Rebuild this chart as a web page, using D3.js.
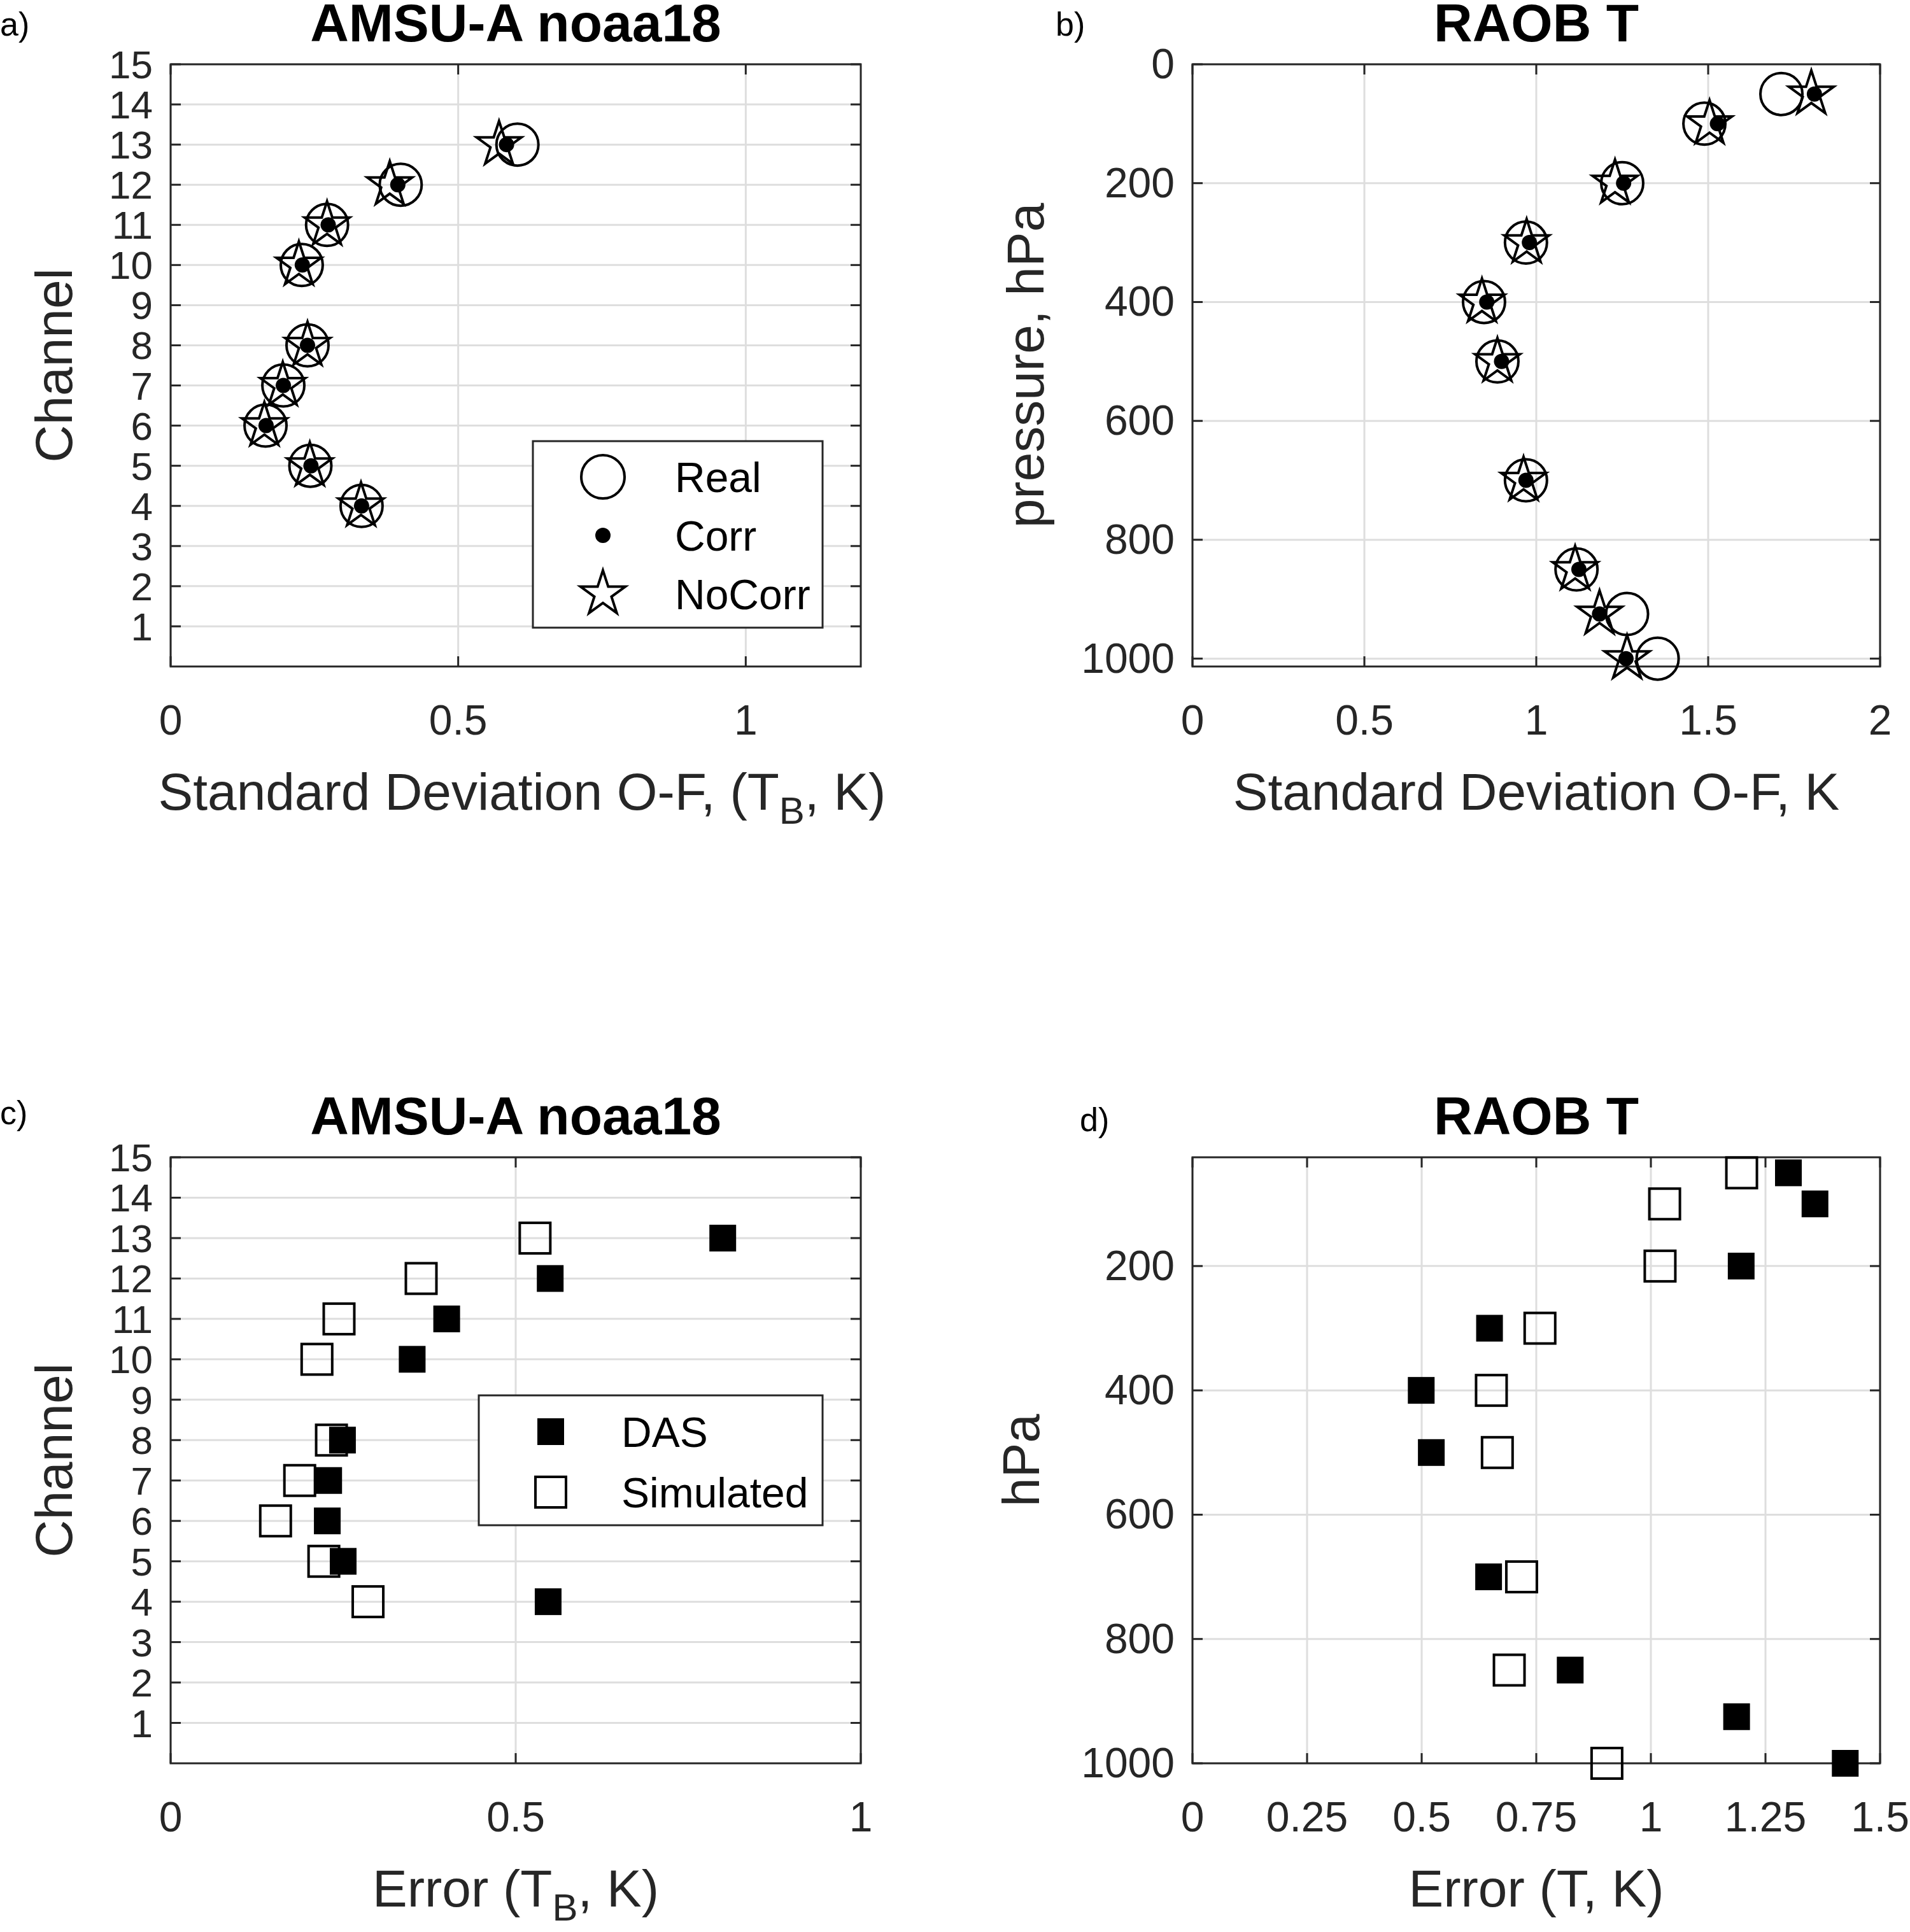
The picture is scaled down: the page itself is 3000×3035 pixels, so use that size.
<!DOCTYPE html>
<html>
<head>
<meta charset="utf-8">
<script src="https://cdn.jsdelivr.net/npm/d3@7"></script>
<style>
body { margin: 0; background: #fff; }
text { font-family: "Liberation Sans", Arial, sans-serif; fill: #262626; }
</style>
</head>
<body>
<div id="chart"></div>
<script>
// ---- data ----
var channels = [4, 5, 6, 7, 8, 10, 11, 12, 13];
var amsuReal    = [0.332, 0.243, 0.165, 0.196, 0.238, 0.228, 0.272, 0.400, 0.603];
var amsuCorr    = [0.332, 0.244, 0.166, 0.196, 0.238, 0.229, 0.274, 0.395, 0.584];
var amsuNoCorr  = [0.331, 0.242, 0.163, 0.195, 0.238, 0.223, 0.272, 0.381, 0.571];
var amsuDAS     = [0.547, 0.250, 0.227, 0.229, 0.249, 0.350, 0.400, 0.550, 0.800];
var amsuSim     = [0.286, 0.222, 0.152, 0.187, 0.233, 0.212, 0.244, 0.363, 0.528];

var levels = [50, 100, 200, 300, 400, 500, 700, 850, 925, 1000];
var raobReal   = [1.713, 1.489, 1.250, 0.970, 0.848, 0.887, 0.970, 1.117, 1.264, 1.353];
var raobCorr   = [1.809, 1.527, 1.254, 0.980, 0.856, 0.899, 0.970, 1.124, 1.184, 1.261];
var raobNoCorr = [1.800, 1.504, 1.229, 0.972, 0.842, 0.887, 0.963, 1.113, 1.184, 1.264];
var raobDAS    = [1.300, 1.358, 1.197, 0.648, 0.499, 0.521, 0.646, 0.824, 1.187, 1.424];
var raobSim    = [1.198, 1.030, 1.020, 0.758, 0.652, 0.665, 0.718, 0.691, null, 0.904];

var channelTicks = d3.range(1, 16);
var pressTicks = [0, 200, 400, 600, 800, 1000];
var pressTicksD = [200, 400, 600, 800, 1000];

var svg = d3.select("#chart").append("svg")
    .attr("width", 3000).attr("height", 3035);

function starPath(R) {
    var r = R * 0.382, pts = [];
    for (var i = 0; i < 10; i++) {
        var a = -Math.PI / 2 + i * Math.PI / 5, rr = i % 2 ? r : R;
        pts.push([rr * Math.cos(a), rr * Math.sin(a)]);
    }
    return "M" + pts.join("L") + "Z";
}

// draws axes box, grid and ticks; returns scales
function panel(o) {
    var x = d3.scaleLinear().domain(o.xd).range([o.l, o.r]);
    var y = d3.scaleLinear().domain(o.yd).range(o.yflip ? [o.t, o.b] : [o.b, o.t]);
    var g = svg.append("g");
    g.selectAll(".gx").data(o.xt).enter().append("line")
        .attr("x1", d => x(d)).attr("x2", d => x(d)).attr("y1", o.t).attr("y2", o.b)
        .attr("stroke", "#dedede").attr("stroke-width", 3);
    g.selectAll(".gy").data(o.yt).enter().append("line")
        .attr("y1", d => y(d)).attr("y2", d => y(d)).attr("x1", o.l).attr("x2", o.r)
        .attr("stroke", "#dedede").attr("stroke-width", 3);
    var tk = 16;
    o.xt.forEach(function(d) {
        g.append("line").attr("x1", x(d)).attr("x2", x(d)).attr("y1", o.b).attr("y2", o.b - tk).attr("stroke", "#262626").attr("stroke-width", 3);
        g.append("line").attr("x1", x(d)).attr("x2", x(d)).attr("y1", o.t).attr("y2", o.t + tk).attr("stroke", "#262626").attr("stroke-width", 3);
        g.append("text").attr("x", x(d)).attr("y", o.b + 107).attr("text-anchor", "middle")
            .attr("font-size", 66).text(o.xf ? o.xf(d) : d);
    });
    o.yt.forEach(function(d) {
        g.append("line").attr("y1", y(d)).attr("y2", y(d)).attr("x1", o.l).attr("x2", o.l + tk).attr("stroke", "#262626").attr("stroke-width", 3);
        g.append("line").attr("y1", y(d)).attr("y2", y(d)).attr("x1", o.r).attr("x2", o.r - tk).attr("stroke", "#262626").attr("stroke-width", 3);
        g.append("text").attr("x", o.l - 28).attr("y", y(d) + 22).attr("text-anchor", "end")
            .attr("font-size", o.yfs || 66).text(d);
    });
    g.append("rect").attr("x", o.l).attr("y", o.t).attr("width", o.r - o.l).attr("height", o.b - o.t)
        .attr("fill", "none").attr("stroke", "#262626").attr("stroke-width", 3);
    // title and labels
    svg.append("text").attr("x", (o.l + o.r) / 2).attr("y", o.t - 36).attr("text-anchor", "middle")
        .attr("font-size", 84).attr("font-weight", "bold").style("fill", "#000").text(o.title);
    svg.append("text").attr("x", o.px).attr("y", o.py).attr("font-size", 52).style("fill", "#000").text(o.tag);
    var xl = svg.append("text").attr("x", (o.l + o.r) / 2 + (o.xlOff || 0)).attr("y", o.b + 225)
        .attr("text-anchor", "middle").attr("font-size", 82);
    var shift = 0;
    o.xlab.forEach(function(p) {
        if (p.sub) {
            xl.append("tspan").attr("font-size", 60).attr("dy", 22).text(p.sub);
            shift = -22;
        } else {
            xl.append("tspan").attr("dy", shift).text(p.t);
            shift = 0;
        }
    });
    svg.append("text").attr("transform", "translate(" + o.ylx + "," + (o.t + o.b) / 2 + ") rotate(-90)")
        .attr("text-anchor", "middle").attr("dominant-baseline", "central")
        .attr("font-size", 82).text(o.ylab);
    return {x: x, y: y, g: g};
}

var A = {l: 268, r: 1352, t: 101, b: 1047};
var B = {l: 1873, r: 2953, t: 101, b: 1047};
var C = {l: 268, r: 1352, t: 1818, b: 2770};
var D = {l: 1873, r: 2953, t: 1818, b: 2770};

function circles(g, s, xs, ys, R) {
    g.selectAll(null).data(xs.map((v, i) => [v, ys[i]]).filter(d => d[0] != null)).enter().append("circle")
        .attr("cx", d => s.x(d[0])).attr("cy", d => s.y(d[1])).attr("r", R)
        .attr("fill", "none").attr("stroke", "#000").attr("stroke-width", 4);
}
function dots(g, s, xs, ys) {
    g.selectAll(null).data(xs.map((v, i) => [v, ys[i]])).enter().append("circle")
        .attr("cx", d => s.x(d[0])).attr("cy", d => s.y(d[1])).attr("r", 12).attr("fill", "#000");
}
function stars(g, s, xs, ys) {
    g.selectAll(null).data(xs.map((v, i) => [v, ys[i]])).enter().append("path")
        .attr("transform", d => "translate(" + s.x(d[0]) + "," + s.y(d[1]) + ")")
        .attr("d", starPath(37)).attr("fill", "none").attr("stroke", "#000").attr("stroke-width", 4);
}
function squares(g, s, xs, ys, filled) {
    var w = filled ? 42 : 48;
    g.selectAll(null).data(xs.map((v, i) => [v, ys[i]]).filter(d => d[0] != null)).enter().append("rect")
        .attr("x", d => s.x(d[0]) - w / 2).attr("y", d => s.y(d[1]) - w / 2)
        .attr("width", w).attr("height", w)
        .attr("fill", filled ? "#000" : "none").attr("stroke", "#000").attr("stroke-width", filled ? 0 : 4);
}
function legend(box, items) {
    var lg = svg.append("g");
    lg.append("rect").attr("x", box.x).attr("y", box.y).attr("width", box.w).attr("height", box.h)
        .attr("fill", "#fff").attr("stroke", "#262626").attr("stroke-width", 3);
    items.forEach(function(it, i) {
        var cy = box.y0 + i * box.dy, cx = box.mx;
        if (it.type == "circle") lg.append("circle").attr("cx", cx).attr("cy", cy).attr("r", 34).attr("fill", "none").attr("stroke", "#000").attr("stroke-width", 4);
        if (it.type == "dot") lg.append("circle").attr("cx", cx).attr("cy", cy).attr("r", 12).attr("fill", "#000");
        if (it.type == "star") lg.append("path").attr("transform", "translate(" + cx + "," + cy + ")").attr("d", starPath(37)).attr("fill", "none").attr("stroke", "#000").attr("stroke-width", 4);
        if (it.type == "fsq") lg.append("rect").attr("x", cx - 21).attr("y", cy - 21).attr("width", 42).attr("height", 42).attr("fill", "#000");
        if (it.type == "osq") lg.append("rect").attr("x", cx - 24).attr("y", cy - 24).attr("width", 48).attr("height", 48).attr("fill", "none").attr("stroke", "#000").attr("stroke-width", 4);
        lg.append("text").attr("x", box.tx).attr("y", cy + 24).attr("font-size", 66).style("fill", "#000").text(it.label);
    });
}

// a)
var sa = panel(Object.assign({xd: [0, 1.2], yd: [0, 15], xt: [0, 0.5, 1], yt: channelTicks, yfs: 62,
    title: "AMSU-A noaa18", tag: "a)", px: 0, py: 56, ylx: 84, ylab: "Channel",
    xlab: [{t: "Standard Deviation O-F, (T"}, {sub: "B"}, {t: ", K)"}], xlOff: 10}, A));
circles(sa.g, sa, amsuReal, channels, 33);
dots(sa.g, sa, amsuCorr, channels);
stars(sa.g, sa, amsuNoCorr, channels);
legend({x: 837, y: 693, w: 455, h: 293, y0: 749, dy: 92, mx: 947, tx: 1060},
    [{type: "circle", label: "Real"}, {type: "dot", label: "Corr"}, {type: "star", label: "NoCorr"}]);

// b)
var sb = panel(Object.assign({xd: [0, 2], yd: [0, 1013.25], yflip: true, xt: [0, 0.5, 1, 1.5, 2], yt: pressTicks,
    title: "RAOB T", tag: "b)", px: 1658, py: 56, ylx: 1610, ylab: "pressure, hPa",
    xlab: [{t: "Standard Deviation O-F, K"}]}, B));
circles(sb.g, sb, raobReal, levels, 33);
dots(sb.g, sb, raobCorr, levels);
stars(sb.g, sb, raobNoCorr, levels);

// c)
var sc = panel(Object.assign({xd: [0, 1], yd: [0, 15], xt: [0, 0.5, 1], yt: channelTicks, yfs: 62,
    title: "AMSU-A noaa18", tag: "c)", px: 0, py: 1766, ylx: 84, ylab: "Channel",
    xlab: [{t: "Error (T"}, {sub: "B"}, {t: ", K)"}]}, C));
squares(sc.g, sc, amsuDAS, channels, true);
squares(sc.g, sc, amsuSim, channels, false);
legend({x: 752, y: 2192, w: 540, h: 204, y0: 2249, dy: 95, mx: 865, tx: 976},
    [{type: "fsq", label: "DAS"}, {type: "osq", label: "Simulated"}]);

// d)
var sd = panel(Object.assign({xd: [0, 1.5], yd: [25, 1000], yflip: true, xt: [0, 0.25, 0.5, 0.75, 1, 1.25, 1.5], yt: pressTicksD,
    title: "RAOB T", tag: "d)", px: 1696, py: 1777, ylx: 1603, ylab: "hPa",
    xlab: [{t: "Error (T, K)"}]}, D));
squares(sd.g, sd, raobDAS, levels, true);
squares(sd.g, sd, raobSim, levels, false);
</script>
</body>
</html>
